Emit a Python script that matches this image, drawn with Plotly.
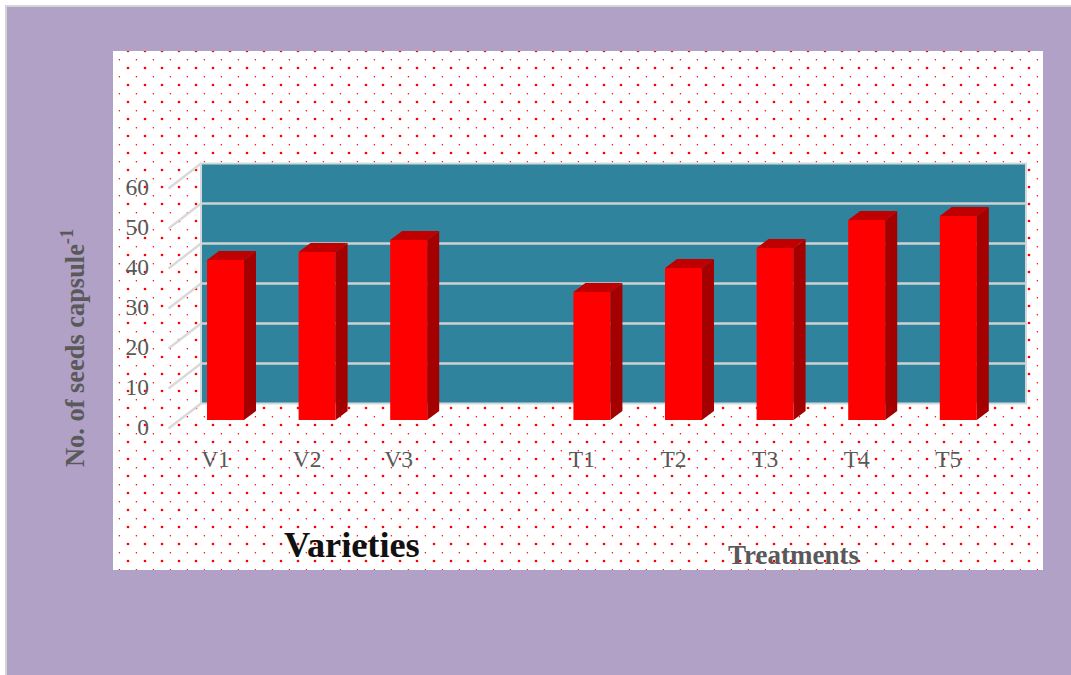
import base64
import plotly.graph_objects as go

categories = ["V1", "V2", "V3", "T1", "T2", "T3", "T4", "T5"]
slots = [0, 1, 2, 4, 5, 6, 7, 8]
seeds = [40, 42, 45, 32, 38, 43, 50, 51]
y_ticks = [0, 10, 20, 30, 40, 50, 60]

W, H = 1071, 675
SLOT = 91.6          # px per slot
UNIT = 4.0           # px per y unit
X0, Y0 = 225.5, 420  # px of slot 0 / value 0
PLOT_L, PLOT_R, PLOT_T, PLOT_B = 150, 1035, 150, 440


def dx(px):
    return px / SLOT


def dy(px):
    return px / UNIT


def px_x(px):
    return (px - X0) / SLOT


def px_y(px):
    return (Y0 - px) / UNIT


svg = f'''<svg xmlns="http://www.w3.org/2000/svg" width="{W}" height="{H}" viewBox="0 0 {W} {H}">
<defs><pattern id="p" x="113" y="51" width="17" height="17" patternUnits="userSpaceOnUse">
<circle cx="15" cy="0" r="1.35" fill="#ff0000"/><circle cx="15" cy="17" r="1.35" fill="#ff0000"/>
<circle cx="6.4" cy="8.7" r="0.75" fill="#ff0000"/></pattern></defs>
<rect width="{W}" height="{H}" fill="#ffffff"/>
<rect x="6" y="6" width="{W}" height="{H}" fill="#b1a1c6" stroke="#d4d4d4" stroke-width="2"/>
<rect x="113" y="51" width="930" height="519" fill="#ffffff"/>
<rect x="113" y="51" width="930" height="519" fill="url(#p)"/></svg>'''
bg = "data:image/svg+xml;base64," + base64.b64encode(svg.encode()).decode()

BAR_PX, DEPTH_X, DEPTH_Y = 37, 12, 9
half = dx(BAR_PX) / 2

side_x, side_y, top_x, top_y = [], [], [], []
for s, v in zip(slots, seeds):
    r = s + half
    l = s - half
    side_x += [r, r + dx(DEPTH_X), r + dx(DEPTH_X), r, r, None]
    side_y += [0, dy(DEPTH_Y), v + dy(DEPTH_Y), v, 0, None]
    top_x += [l, l + dx(DEPTH_X), r + dx(DEPTH_X), r, l, None]
    top_y += [v, v + dy(DEPTH_Y), v + dy(DEPTH_Y), v, v, None]

fig = go.Figure()
fig.add_trace(go.Scatter(x=side_x, y=side_y, fill="toself", fillcolor="#a50000", mode="lines",
                         line=dict(width=0), hoverinfo="skip", showlegend=False))
fig.add_trace(go.Scatter(x=top_x, y=top_y, fill="toself", fillcolor="#c00000", mode="lines",
                         line=dict(width=0), hoverinfo="skip", showlegend=False))
fig.add_trace(go.Bar(x=slots, y=seeds, width=dx(BAR_PX), marker=dict(color="#ff0000", line=dict(width=0)),
                     showlegend=False))

wall_l, wall_r = px_x(201), px_x(1026)
wall_shift = dy(Y0 - 403.5)
shapes = [dict(type="rect", layer="below", xref="x", yref="y", x0=wall_l, x1=wall_r,
               y0=wall_shift, y1=wall_shift + y_ticks[-1], fillcolor="#30839c",
               line=dict(color="#d3d8da", width=2))]
for t in y_ticks:
    if 0 < t < y_ticks[-1]:
        shapes.append(dict(type="line", layer="below", xref="x", yref="y", x0=wall_l, x1=wall_r,
                           y0=wall_shift + t, y1=wall_shift + t, line=dict(color="#cdd2d4", width=2.6)))
    shapes.append(dict(type="line", layer="below", xref="x", yref="y", x0=wall_l, x1=wall_l - dx(32.5),
                       y0=wall_shift + t, y1=wall_shift + t - dy(25), line=dict(color="#d9d9d9", width=2.4)))

T = "Liberation Serif"
GREY = "#595959"
ann = [
    dict(text="No. of seeds capsule<sup>-1</sup>", x=73 / W, y=1 - 348 / H, textangle=-90,
         font=dict(family=T, size=26.4, color=GREY, weight="bold")),
    dict(text="Varieties", x=351.5 / W, y=1 - 545 / H,
         font=dict(family=T, size=36.3, color="#111111", weight="bold")),
    dict(text="Treatments", x=793.5 / W, y=1 - 555 / H,
         font=dict(family=T, size=27, color=GREY, weight="bold")),
]
for a in ann:
    a.update(xref="paper", yref="paper", xanchor="center", yanchor="middle", showarrow=False)

fig.update_layout(
    width=W, height=H, margin=dict(l=0, r=0, t=0, b=0),
    paper_bgcolor="#ffffff", plot_bgcolor="rgba(0,0,0,0)",
    images=[dict(source=bg, xref="paper", yref="paper", x=0, y=1, sizex=1, sizey=1,
                 xanchor="left", yanchor="top", sizing="stretch", layer="below")],
    shapes=shapes, annotations=ann, showlegend=False,
    xaxis=dict(domain=[PLOT_L / W, PLOT_R / W], range=[px_x(PLOT_L), px_x(PLOT_R)],
               tickmode="array", tickvals=slots, ticktext=categories, showgrid=False, zeroline=False,
               showline=False, ticks="", ticklabelstandoff=2, ticklabelshift=-10,
               tickfont=dict(family=T, size=23.5, color=GREY)),
    yaxis=dict(domain=[1 - PLOT_B / H, 1 - PLOT_T / H], range=[px_y(PLOT_B), px_y(PLOT_T)],
               tickmode="array", tickvals=y_ticks, showgrid=False, zeroline=False,
               showline=False, ticks="", ticklabelshift=7,
               tickfont=dict(family=T, size=23.5, color=GREY)),
)
fig.write_html("out.html", config=dict(displayModeBar=False),
               post_script="document.body.style.margin='0';document.documentElement.style.overflow='hidden';")
